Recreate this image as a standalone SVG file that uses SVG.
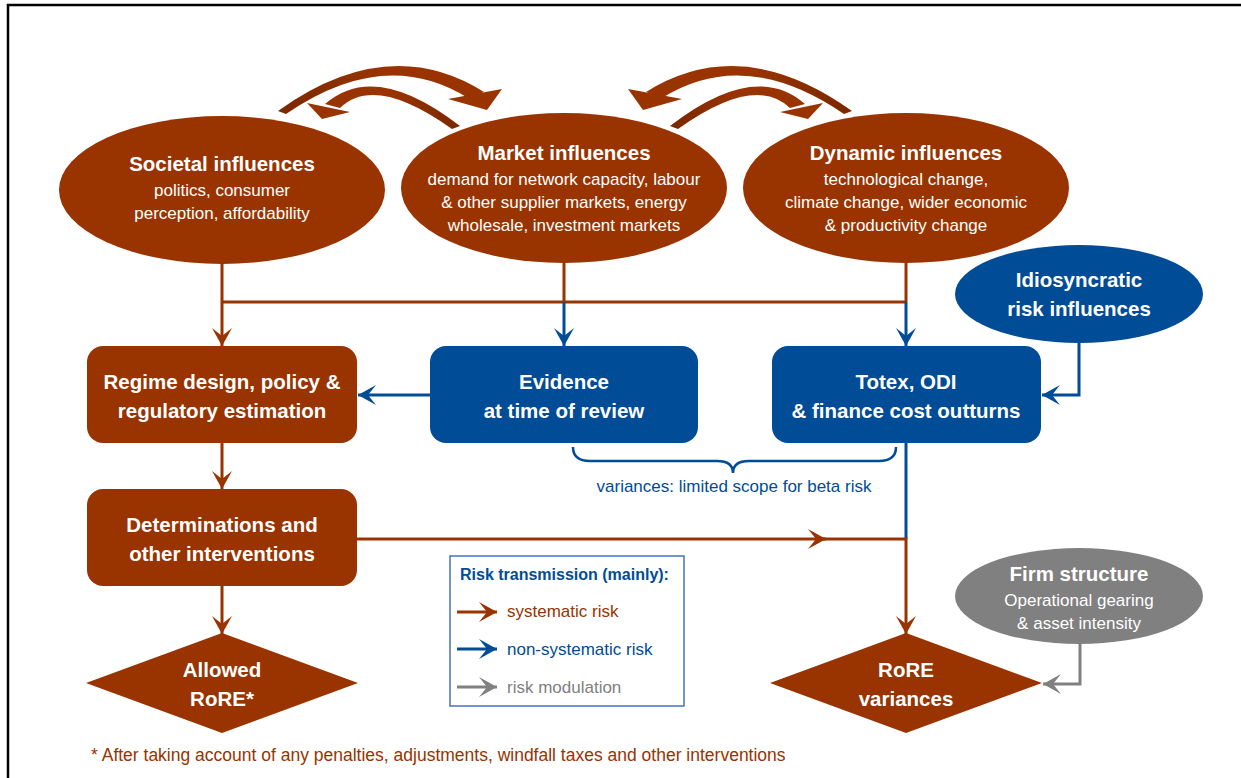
<svg xmlns="http://www.w3.org/2000/svg" width="1241" height="778" viewBox="0 0 1241 778">
<style>
.br{fill:#993300}
.bl{fill:#004C97}
.gr{fill:#808080}
.t{font-family:"Liberation Sans",Arial,sans-serif;fill:#fff;text-anchor:middle}
.h{font-weight:bold;font-size:20.5px}
.s{font-size:17px}
.lb{fill:none;stroke:#993300;stroke-width:3}
.lu{fill:none;stroke:#004C97;stroke-width:3}
.lg{fill:none;stroke:#808080;stroke-width:3}
</style>
<defs>
<marker id="aB" markerUnits="userSpaceOnUse" markerWidth="24" markerHeight="24" viewBox="-20 -12 24 24" refX="0" refY="0" orient="auto"><path d="M0,0 L-18,-10 L-10,0 L-18,10 Z" fill="#993300"/></marker>
<marker id="aU" markerUnits="userSpaceOnUse" markerWidth="24" markerHeight="24" viewBox="-20 -12 24 24" refX="0" refY="0" orient="auto"><path d="M0,0 L-18,-10 L-10,0 L-18,10 Z" fill="#004C97"/></marker>
<marker id="aG" markerUnits="userSpaceOnUse" markerWidth="24" markerHeight="24" viewBox="-20 -12 24 24" refX="0" refY="0" orient="auto"><path d="M0,0 L-18,-10 L-10,0 L-18,10 Z" fill="#808080"/></marker>
<linearGradient id="gA" x1="0" y1="0" x2="1" y2="0"><stop offset="0" stop-color="#7a2800"/><stop offset="0.5" stop-color="#993300"/></linearGradient>
<linearGradient id="gI" x1="1" y1="0" x2="0" y2="0"><stop offset="0" stop-color="#7a2800"/><stop offset="0.5" stop-color="#993300"/></linearGradient>
<g id="arcpair">
<path fill="url(#gA)" d="M278,111 Q388,32 484,92 L468,98 Q385,46 286,114 Z"/>
<polygon class="br" points="448,99 487,110 502,89"/>
<path fill="url(#gI)" d="M460,126 Q375,60 325,104 L340,108 Q375,74 452,129 Z"/>
<polygon class="br" points="307,103 322,119 350,112"/>
</g>
</defs>
<rect width="1241" height="778" fill="#fff"/>
<path d="M8,778 L8,5 L1241,5" fill="none" stroke="#000" stroke-width="2.5"/>

<g id="connectors">
<use href="#arcpair"/>
<use href="#arcpair" transform="translate(1130,0) scale(-1,1)"/>
<path class="lb" d="M222,263 L222,346" marker-end="url(#aB)"/>
<path class="lb" d="M222,302 L906,302"/>
<path class="lb" d="M564,262 L564,302"/>
<path class="lb" d="M906,262 L906,302"/>
<path class="lu" d="M564,302 L564,346" marker-end="url(#aU)"/>
<path class="lu" d="M906,302 L906,346" marker-end="url(#aU)"/>
<path class="lu" d="M430,395 L358,395" marker-end="url(#aU)"/>
<path class="lb" d="M222,443 L222,489" marker-end="url(#aB)"/>
<path class="lb" d="M222,586 L222,634" marker-end="url(#aB)"/>
<path class="lu" d="M906,443 L906,539"/>
<path class="lb" d="M357,539 L826,539" marker-end="url(#aB)"/>
<path class="lb" d="M820,539 L906,539 L906,634" marker-end="url(#aB)"/>
<path class="lu" d="M1079,343 L1079,395 L1042,395" marker-end="url(#aU)"/>
<path class="lg" d="M1080,644 L1080,684 L1043,684" marker-end="url(#aG)"/>
<path d="M573,447 Q573,461 590,461 L717,461 Q733,461 733,473 Q733,461 749,461 L879,461 Q896,461 896,447" fill="none" stroke="#004C97" stroke-width="2.5"/>
<text class="t" x="734" y="492" style="fill:#004C97;font-size:17px">variances: limited scope for beta risk</text>
</g>

<g id="societal">
<ellipse class="br" cx="222" cy="190" rx="163" ry="74"/>
<text class="t h" x="222" y="171">Societal influences</text>
<text class="t s" x="222" y="196">politics, consumer</text>
<text class="t s" x="222" y="219">perception, affordability</text>
</g>
<g id="market">
<ellipse class="br" cx="564" cy="188" rx="163" ry="75"/>
<text class="t h" x="564" y="160">Market influences</text>
<text class="t s" x="564" y="185">demand for network capacity, labour</text>
<text class="t s" x="564" y="208">&amp; other supplier markets, energy</text>
<text class="t s" x="564" y="231">wholesale, investment markets</text>
</g>
<g id="dynamic">
<ellipse class="br" cx="906" cy="188" rx="163" ry="75"/>
<text class="t h" x="906" y="160">Dynamic influences</text>
<text class="t s" x="906" y="185">technological change,</text>
<text class="t s" x="906" y="208">climate change, wider economic</text>
<text class="t s" x="906" y="231">&amp; productivity change</text>
</g>
<g id="idiosyncratic">
<ellipse class="bl" cx="1079" cy="294" rx="124" ry="49"/>
<text class="t h" x="1079" y="287">Idiosyncratic</text>
<text class="t h" x="1079" y="316">risk influences</text>
</g>
<g id="regime">
<rect class="br" x="87" y="346" width="270" height="97" rx="16"/>
<text class="t h" x="222" y="389">Regime design, policy &amp;</text>
<text class="t h" x="222" y="418">regulatory estimation</text>
</g>
<g id="evidence">
<rect class="bl" x="430" y="346" width="268" height="97" rx="16"/>
<text class="t h" x="564" y="389">Evidence</text>
<text class="t h" x="564" y="418">at time of review</text>
</g>
<g id="totex">
<rect class="bl" x="772" y="346" width="269" height="97" rx="16"/>
<text class="t h" x="906" y="389">Totex, ODI</text>
<text class="t h" x="906" y="418">&amp; finance cost outturns</text>
</g>
<g id="determinations">
<rect class="br" x="87" y="489" width="270" height="97" rx="16"/>
<text class="t h" x="222" y="532">Determinations and</text>
<text class="t h" x="222" y="561">other interventions</text>
</g>
<g id="allowed">
<polygon class="br" points="222,633 358,683 222,733 86,683"/>
<text class="t h" x="222" y="677">Allowed</text>
<text class="t h" x="222" y="706">RoRE*</text>
</g>
<g id="rore">
<polygon class="br" points="906,633 1042,683 906,733 770,683"/>
<text class="t h" x="906" y="677">RoRE</text>
<text class="t h" x="906" y="706">variances</text>
</g>
<g id="firm">
<ellipse class="gr" cx="1079" cy="596" rx="124" ry="48"/>
<text class="t h" x="1079" y="581">Firm structure</text>
<text class="t s" x="1079" y="606">Operational gearing</text>
<text class="t s" x="1079" y="629">&amp; asset intensity</text>
</g>
<g id="legend">
<rect x="450" y="556" width="234" height="150" fill="#fff" stroke="#4472C4" stroke-width="1.5"/>
<text class="t" x="460" y="580" style="fill:#004C97;font-weight:bold;font-size:16px;text-anchor:start">Risk transmission (mainly):</text>
<path class="lb" d="M457,612 L497,612" marker-end="url(#aB)"/>
<path class="lu" d="M457,649 L497,649" marker-end="url(#aU)"/>
<path class="lg" d="M457,687 L497,687" marker-end="url(#aG)"/>
<text class="t" x="507" y="617" style="fill:#993300;font-size:17px;text-anchor:start">systematic risk</text>
<text class="t" x="507" y="655" style="fill:#004C97;font-size:17px;text-anchor:start">non-systematic risk</text>
<text class="t" x="507" y="693" style="fill:#808080;font-size:17px;text-anchor:start">risk modulation</text>
</g>
<text class="t" x="91" y="761" style="fill:#993300;font-size:17.5px;text-anchor:start">* After taking account of any penalties, adjustments, windfall taxes and other interventions</text>
</svg>
